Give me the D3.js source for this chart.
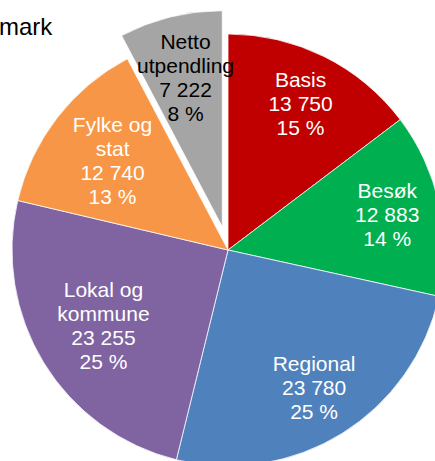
<!DOCTYPE html>
<html>
<head>
<meta charset="utf-8">
<script src="https://cdn.jsdelivr.net/npm/d3@7"></script>
<style>
  body { margin: 0; background: #fff; }
  svg { display: block; font-family: "Liberation Sans", Arial, sans-serif; }
</style>
</head>
<body>
<div id="chart"></div>
<script>
var categories = ["Basis", "Besøk", "Regional", "Lokal og\nkommune", "Fylke og\nstat", "Netto\nutpendling"];
var values = [13750, 12883, 23780, 23255, 12740, 7222];
var percents = [15, 14, 25, 25, 13, 8];
var colors = ["#C00000", "#00B050", "#4F81BD", "#8064A2", "#F79646", "#A5A5A5"];
var exploded = [false, false, false, false, false, true];
var title = "mark";

var width = 435, height = 461;
var cx = 228, cy = 250, radius = 216;
var explodeBy = 24;

var svg = d3.select("#chart")
    .append("svg")
    .attr("width", width)
    .attr("height", height);

var locale = d3.formatLocale({decimal: ",", thousands: " ", grouping: [3], currency: ["", " kr"]});
var fmt = locale.format(",");

var pie = d3.pie().sort(null).value(d => d.value);
var arc = d3.arc().innerRadius(0).outerRadius(radius);

var data = categories.map((c, i) => ({
    name: c, value: values[i], pct: percents[i], color: colors[i], explode: exploded[i]
}));

var g = svg.append("g").attr("transform", "translate(" + cx + "," + cy + ")");

var slices = g.selectAll("g.slice")
    .data(pie(data))
    .enter()
    .append("g")
    .attr("class", "slice")
    .attr("transform", d => {
        if (!d.data.explode) return null;
        var a = (d.startAngle + d.endAngle) / 2;
        return "translate(" + (Math.sin(a) * explodeBy) + "," + (-Math.cos(a) * explodeBy) + ")";
    });

slices.append("path")
    .attr("d", arc)
    .attr("fill", d => d.data.color)
    .attr("stroke", "#fff")
    .attr("stroke-width", 0.75);

var lineH = 24;
slices.each(function(d) {
    var lines = d.data.name.split("\n").concat([fmt(d.data.value), d.data.pct + " %"]);
    var lr = lines.length > 3 ? 146 : 163;
    if (d.data.explode) lr += 7;
    var a = (d.startAngle + d.endAngle) / 2;
    var x = Math.sin(a) * lr, y = -Math.cos(a) * lr;
    var t = d3.select(this).append("text")
        .attr("text-anchor", "middle")
        .style("font-size", "21px")
        .attr("fill", d.data.explode ? "#000" : "#fff");
    var y0 = y - (lines.length - 1) * lineH / 2 + 7;
    lines.forEach((s, k) => {
        t.append("tspan").attr("x", x).attr("y", y0 + k * lineH).text(s);
    });
});

svg.append("text")
    .attr("x", -1)
    .attr("y", 35)
    .style("font-size", "24px")
    .attr("fill", "#000")
    .text(title);
</script>
</body>
</html>
